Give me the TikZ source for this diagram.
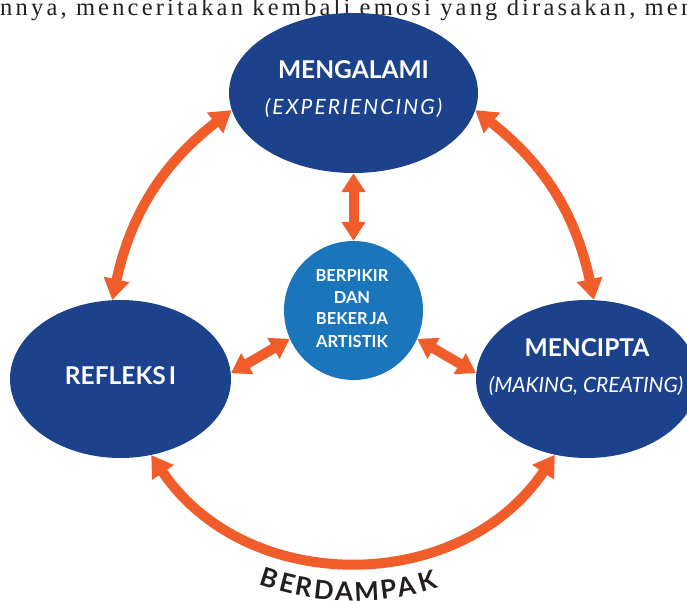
\documentclass[tikz,border=0pt]{standalone}
\usepackage{fontspec}
\newfontfamily\lato{Lato}
\newfontfamily\latowide{Lato}[LetterSpace=10]
\newfontfamily\bodyserif{Liberation Serif}[LetterSpace=13]
\usetikzlibrary{shapes.geometric,arrows.meta}
\definecolor{dblue}{HTML}{1B428A}
\definecolor{lblue}{HTML}{1B75BB}
\definecolor{orng}{HTML}{F15D2A}
\definecolor{ink}{HTML}{231F20}
\begin{document}
\begin{tikzpicture}[x=1pt,y=1pt,
  blob/.style={ellipse, fill=dblue, inner sep=0pt},
  arr/.style={draw=orng, line width=10pt, {Triangle[width=25pt,length=21pt]}-{Triangle[width=25pt,length=21pt]}},
  sarr/.style={draw=orng, line width=10pt, {Triangle[width=23pt,length=19pt]}-{Triangle[width=23pt,length=19pt]}},
  head/.style={text=white, font=\lato\bfseries\fontsize{24.5}{28}\selectfont, anchor=base, inner sep=0pt},
  sub/.style={text=white, font=\lato\itshape\fontsize{21}{25}\selectfont, anchor=base, inner sep=0pt},
  subwide/.style={text=white, font=\latowide\itshape\fontsize{21}{25}\selectfont, anchor=base, inner sep=0pt},
  midtxt/.style={text=white, font=\lato\bfseries\fontsize{16.5}{19}\selectfont, anchor=base, inner sep=0pt},
  letter/.style={text=ink, font=\lato\bfseries\fontsize{26}{30}\selectfont, anchor=base, inner sep=0pt},
]
\useasboundingbox (0,0) rectangle (687,-601);
\node[anchor=base west, inner sep=0pt, text=ink, font=\bodyserif\fontsize{24.5}{28}\selectfont] (body) at (0,-15.5) {nnya, menceritakan kembali emosi yang dirasakan, men};
\node[blob, minimum width=249pt, minimum height=160pt] (top) at (353.5,-93) {};
\node[blob, minimum width=221pt, minimum height=158pt] (left) at (120.5,-379) {};
\node[blob, minimum width=222pt, minimum height=158pt] (right) at (587,-379) {};
\node[circle, fill=lblue, minimum size=139pt, inner sep=0pt] (mid) at (353.5,-310.5) {};
\node[head] (t1) at (353.5,-79) {MENGALAMI};
\node[subwide] (t2) at (353.5,-115) {(EXPERIENCING)};
\node[head] (t3) at (120.5,-384) {REFLEKS\kern3pt I};
\node[head] (t4) at (587,-356) {MENCIPTA};
\node[sub] (t5) at (586,-392) {(MAKING, CREATING)};
\node[midtxt] (c1) at (352,-281) {BERPIKIR};
\node[midtxt] (c2) at (352,-303) {DAN};
\node[midtxt] (c3) at (352,-324.5) {BEKER\kern2pt JA};
\node[midtxt] (c4) at (352,-347) {ARTISTIK};
\draw[sarr] (top.270) -- (mid.90);
\draw[sarr] (left.3) -- (mid.204);
\draw[sarr] (mid.336) -- (right.177);
\draw[arr] (top.188) to[bend right=20] (left.96);
\draw[arr] (top.352) to[bend left=20] (right.85);
\draw[arr] (left.292) to[bend right=56, looseness=1.08] (right.247);
\coordinate (arcc) at (353,-321);
\foreach \ch/\ang [count=\i] in {B/-17.9, E/-14.05, R/-10.5, D/-6.15, A/-1.84, M/2.87, P/7.5, A/11.3, K/16.0}
  \node[letter, rotate=\ang] (L\i) at ([shift={(\ang-90:280pt)}]arcc) {\ch};
\end{tikzpicture}
\end{document}
